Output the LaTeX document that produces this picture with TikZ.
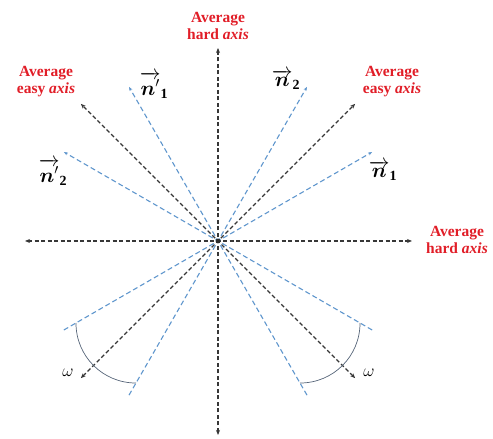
\documentclass[tikz,border=0pt]{standalone}
\usepackage{xcolor}
\usepackage{amsmath}
\usepackage{amssymb}
\usepackage{bm}
\usepackage{fontspec}
\setmainfont{Liberation Serif}
\usepackage{tikz}
\usetikzlibrary{arrows.meta, positioning}
\definecolor{axisred}{RGB}{225,30,40}
\definecolor{normblue}{RGB}{95,150,205}
\definecolor{axisgray}{RGB}{55,55,55}
\definecolor{arcgray}{RGB}{85,100,120}

\begin{document}
\begin{tikzpicture}[x=1pt, y=1pt,
  axisline/.style={{Stealth[length=5pt,width=4pt]}-{Stealth[length=5pt,width=4pt]},
                   axisgray, line width=1.3pt, dash pattern=on 4pt off 2.5pt},
  normline/.style={-{Stealth[length=4pt,width=3pt]}, normblue, line width=1.1pt,
                   dash pattern=on 5pt off 3pt},
  label/.style={font=\fontsize{15.5}{17}\selectfont\bfseries, text=axisred,
                align=center},
  vec/.style={font=\fontsize{20}{22}\selectfont},
  spread/.style={arcgray, line width=0.7pt}
]
\useasboundingbox (0,0) rectangle (493,439);

% Centre
\coordinate (O) at (218,198);

% Average hard and easy axes
\path (O) ++(90:193) coordinate (hT) ++(0,-387) coordinate (hB);
\path (O) ++(0:194) coordinate (hR) ++(-387,0) coordinate (hL);
\path (O) ++(45:194) coordinate (eR);
\path (O) ++(135:194) coordinate (eL);
\path (O) ++(225:194) coordinate (eLL);
\path (O) ++(315:194) coordinate (eLR);

\draw[axisline] (hB) -- (hT);
\draw[axisline] (hL) -- (hR);
\draw[axisline] (eLL) -- (eR);
\draw[axisline] (eLR) -- (eL);

% Normals
\path (O) ++(30:178) coordinate (n1) ++(210:356) coordinate (m1);
\path (O) ++(60:178) coordinate (n2) ++(240:356) coordinate (m2);
\path (O) ++(120:178) coordinate (p1) ++(300:356) coordinate (q1);
\path (O) ++(150:178) coordinate (p2) ++(330:356) coordinate (q2);

\draw[normline] (m1) -- (n1);
\draw[normline] (m2) -- (n2);
\draw[normline] (q1) -- (p1);
\draw[normline] (q2) -- (p2);

\fill[axisgray!80!black] (O) circle (2.4);

% Spread of the easy axis
\path (O) ++(210:164) coordinate (wL1);
\path (O) ++(240:164) coordinate (wL2);
\path (O) ++(330:164) coordinate (wR1);
\path (O) ++(300:164) coordinate (wR2);
\draw[spread] (wL1) to[out=-90, in=180] (wL2);
\draw[spread] (wR1) to[out=-90, in=0] (wR2);

\node[font=\fontsize{19}{21}\selectfont] (omL) at (68,66) {$\omega$};
\node[font=\fontsize{19}{21}\selectfont] (omR) at (369,66) {$\omega$};

% Labels
\node[label] (hardT) at (218,413) {Average\\hard \textit{axis}};
\node[label] (hardR) at (457,199) {Average\\hard \textit{axis}};
\node[label] (easyL) at (46,357) {Average\\easy \textit{axis}};
\node[label] (easyR) at (392,357) {Average\\easy \textit{axis}};

\node[vec] (ln1) at (383,268) {$\overrightarrow{\bm{n}}_{\mathbf{1}}$};
\node[vec] (ln2) at (286,359) {$\overrightarrow{\bm{n}}_{\mathbf{2}}$};
\node[vec] (lp1) at (154,354) {$\overrightarrow{\bm{n}'}_{\mathbf{1}}$};
\node[vec] (lp2) at (53,267) {$\overrightarrow{\bm{n}'}_{\mathbf{2}}$};
\end{tikzpicture}
\end{document}
